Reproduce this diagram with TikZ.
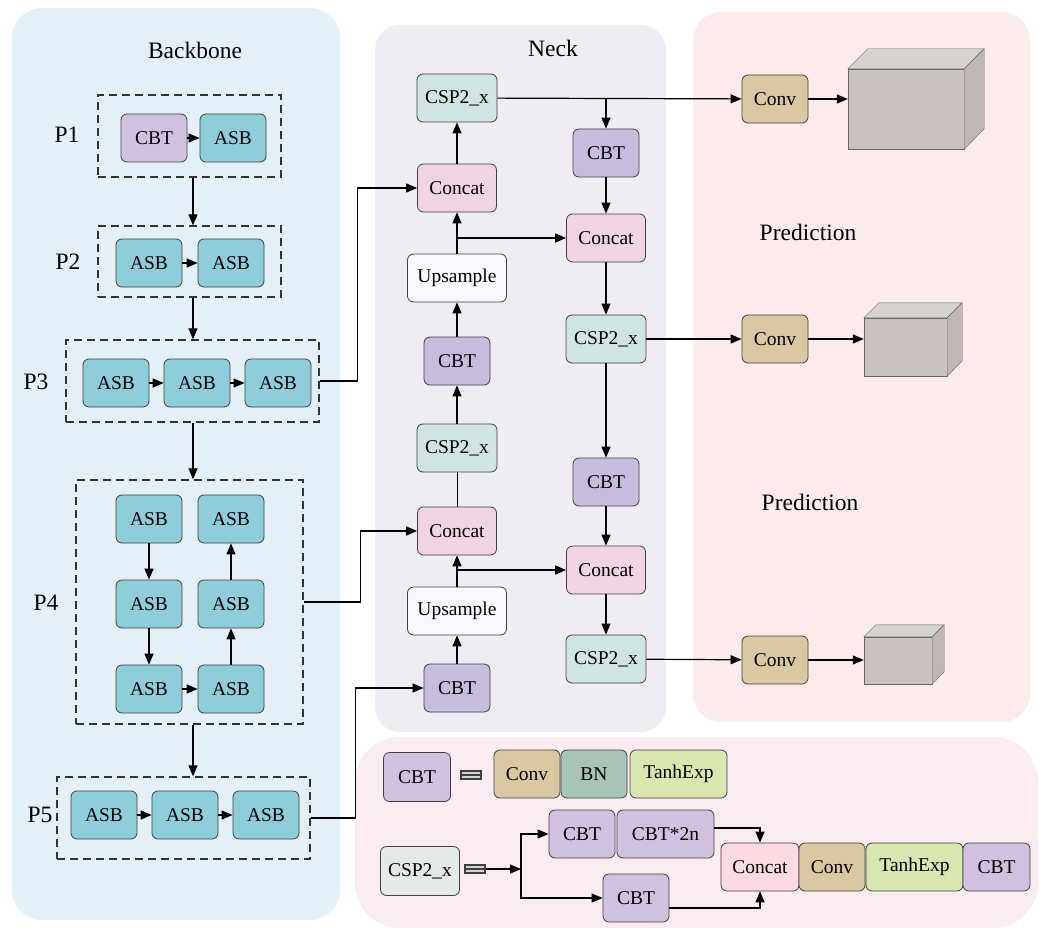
\documentclass[tikz,border=0pt]{standalone}
\usepackage{fontspec}
\setmainfont{Liberation Serif}
\usetikzlibrary{arrows.meta}

\definecolor{fondbb}{RGB}{228,240,247}
\definecolor{fondneck}{RGB}{239,236,244}
\definecolor{fondpred}{RGB}{252,235,235}
\definecolor{fondleg}{RGB}{251,236,242}
\definecolor{asbcol}{RGB}{143,205,218}
\definecolor{cbtcol}{RGB}{200,188,222}
\definecolor{cbtclair}{RGB}{208,194,222}
\definecolor{concatcol}{RGB}{241,212,225}
\definecolor{concatrose}{RGB}{252,218,226}
\definecolor{cspcol}{RGB}{208,228,228}
\definecolor{upcol}{RGB}{250,248,252}
\definecolor{convcol}{RGB}{218,200,162}
\definecolor{bncol}{RGB}{168,196,182}
\definecolor{tanhcol}{RGB}{216,230,176}
\definecolor{cubeface}{RGB}{202,194,192}
\definecolor{cubetop}{RGB}{214,210,208}
\definecolor{cubeside}{RGB}{192,183,181}

\begin{document}
\begin{tikzpicture}[x=1pt,y=-1pt]
\tikzset{bloc/.style={draw=black!75, line width=0.8pt, rounded corners=6pt, minimum width=66pt, minimum height=48pt, inner sep=2pt, font=\fontsize{19.5}{21}\selectfont},
  asb/.style={bloc, fill=asbcol},
  cbt/.style={bloc, fill=cbtcol},
  concat/.style={bloc, fill=concatcol, minimum width=79pt},
  csp/.style={bloc, fill=cspcol, minimum width=80pt},
  upsample/.style={bloc, fill=upcol, minimum width=99pt},
  conv/.style={bloc, fill=convcol},
  cadre/.style={draw=black!80, dash pattern=on 8pt off 5pt, line width=1.3pt, inner sep=0pt},
  fleche/.style={-{Triangle[length=11pt,width=9pt]}, line width=1.2pt},
  titre/.style={font=\fontsize{23.5}{26}\selectfont},
  cube/.style={draw=black!60, fill=cubeface, inner sep=0pt},
  egal/.style={draw=black!75, fill=gray!35, line width=1.2pt, minimum width=20pt, minimum height=8pt, inner sep=0pt}}
\useasboundingbox (0,0) rectangle (1043,928);
% fonds
\fill[fondbb, rounded corners=30pt] (12,8) rectangle (340,920);
\fill[fondneck, rounded corners=25pt] (375,25) rectangle (666,732);
\fill[fondpred, rounded corners=28pt] (693,12) rectangle (1030,722);
\fill[fondleg, rounded corners=45pt] (355,737) rectangle (1038,928);
\node[titre] (tbb) at (195,50) {Backbone};
\node[titre] (tneck) at (553,48) {Neck};
\node[titre] (tpredA) at (808,232) {Prediction};
\node[titre] (tpredB) at (810,502) {Prediction};

% backbone
\node[cadre, minimum width=183pt, minimum height=82pt] (p1) at (189.5,136) {};
\node[cadre, minimum width=183pt, minimum height=71pt] (p2) at (189.5,261.5) {};
\node[cadre, minimum width=253pt, minimum height=82pt] (p3) at (192.5,381) {};
\node[cadre, minimum width=227pt, minimum height=244pt] (p4) at (189.5,602) {};
\node[cadre, minimum width=253pt, minimum height=82pt] (p5) at (183.5,818) {};
\node[titre] (lp1) at (67,135) {P1};
\node[titre] (lp2) at (68,262) {P2};
\node[titre] (lp3) at (36,382) {P3};
\node[titre] (lp4) at (46,603) {P4};
\node[titre] (lp5) at (40,815) {P5};

\node[bloc, fill=cbtclair] (c11) at (154,138) {CBT};
\node[asb] (a12) at (233,138) {ASB};
\node[asb] (a21) at (149,263) {ASB};
\node[asb] (a22) at (231,263) {ASB};
\node[asb] (a31) at (116,383) {ASB};
\node[asb] (a32) at (197,383) {ASB};
\node[asb] (a33) at (278,383) {ASB};
\node[asb] (a41) at (149,519) {ASB};
\node[asb] (a42) at (149,604) {ASB};
\node[asb] (a43) at (149,689) {ASB};
\node[asb] (a44) at (231,689) {ASB};
\node[asb] (a45) at (231,604) {ASB};
\node[asb] (a46) at (231,519) {ASB};
\node[asb] (a51) at (104,815) {ASB};
\node[asb] (a52) at (185,815) {ASB};
\node[asb] (a53) at (266,815) {ASB};
\draw[fleche] (c11) -- (a12);
\draw[fleche] (a21) -- (a22);
\draw[fleche] (a31) -- (a32);
\draw[fleche] (a32) -- (a33);
\draw[fleche] (a41) -- (a42);
\draw[fleche] (a42) -- (a43);
\draw[fleche] (a43) -- (a44);
\draw[fleche] (a44) -- (a45);
\draw[fleche] (a45) -- (a46);
\draw[fleche] (a51) -- (a52);
\draw[fleche] (a52) -- (a53);
\draw[fleche] (p1.south -| 193,0) -- (p2.north -| 193,0);
\draw[fleche] (p2.south -| 193,0) -- (p3.north -| 193,0);
\draw[fleche] (p3.south -| 193,0) -- (p4.north -| 193,0);
\draw[fleche] (p4.south -| 193,0) -- (p5.north -| 193,0);

% neck
\node[csp] (cspA) at (457,98) {CSP2\_x};
\node[concat] (concatL1) at (457,188) {Concat};
\node[upsample] (upL1) at (457,278) {Upsample};
\node[cbt] (cbtL1) at (457,361) {CBT};
\node[csp] (cspL1) at (457,448) {CSP2\_x};
\node[concat] (concatL2) at (457,531) {Concat};
\node[upsample] (upL2) at (457,611) {Upsample};
\node[cbt] (cbtL2) at (457,688) {CBT};
\node[cbt] (cbtR1) at (606,153) {CBT};
\node[concat] (concatR1) at (606,238) {Concat};
\node[csp] (cspR1) at (606,339) {CSP2\_x};
\node[cbt] (cbtR2) at (606,482) {CBT};
\node[concat] (concatR2) at (606,570) {Concat};
\node[csp] (cspR2) at (606,659) {CSP2\_x};
\draw[fleche] (p3.east) -- ++(38,0) |- (concatL1.west);
\draw[fleche] (p4.east) -- ++(57,0) |- (concatL2.west);
\draw[fleche] (p5.east) -- ++(45,0) |- (cbtL2.west);
\draw[fleche] (cbtL2) -- (upL2);
\draw[fleche] (upL2) -- (concatL2);
\draw[fleche] (upL2.north |- concatR2) -- (concatR2.west);
\draw (concatL2) -- (cspL1);
\draw[fleche] (cspL1) -- (cbtL1);
\draw[fleche] (cbtL1) -- (upL1);
\draw[fleche] (upL1) -- (concatL1);
\draw[fleche] (upL1.north |- concatR1) -- (concatR1.west);
\draw[fleche] (concatL1) -- (cspA);
\draw[fleche] (cspA.east -| cbtR1) -- (cbtR1);
\draw[fleche] (cbtR1) -- (concatR1);
\draw[fleche] (concatR1) -- (cspR1);
\draw[fleche] (cspR1) -- (cbtR2);
\draw[fleche] (cbtR2) -- (concatR2);
\draw[fleche] (concatR2) -- (cspR2);

% prediction
\node[conv] (convA) at (775,99) {Conv};
\node[conv] (convB) at (775,339) {Conv};
\node[conv] (convC) at (775,660) {Conv};
\node[cube, minimum width=116pt, minimum height=80pt] (cubeA) at (906,109) {};
\filldraw[draw=black!60, fill=cubetop] (cubeA.north west) -- ++(20,-20) -- ++(116,0) -- (cubeA.north east) -- cycle;
\filldraw[draw=black!60, fill=cubeside] (cubeA.north east) -- ++(20,-20) -- ++(0,80) -- (cubeA.south east) -- cycle;
\node[cube, minimum width=83pt, minimum height=58pt] (cubeB) at (905.5,347) {};
\filldraw[draw=black!60, fill=cubetop] (cubeB.north west) -- ++(15,-15) -- ++(83,0) -- (cubeB.north east) -- cycle;
\filldraw[draw=black!60, fill=cubeside] (cubeB.north east) -- ++(15,-15) -- ++(0,58) -- (cubeB.south east) -- cycle;
\node[cube, minimum width=68pt, minimum height=47pt] (cubeC) at (898,660.5) {};
\filldraw[draw=black!60, fill=cubetop] (cubeC.north west) -- ++(12,-12) -- ++(68,0) -- (cubeC.north east) -- cycle;
\filldraw[draw=black!60, fill=cubeside] (cubeC.north east) -- ++(12,-12) -- ++(0,47) -- (cubeC.south east) -- cycle;
\draw[fleche] (cspA) -- (convA);
\draw[fleche] (cspR1) -- (convB);
\draw[fleche] (cspR2) -- (convC);
\draw[fleche] (convA) -- (convA -| cubeA.west);
\draw[fleche] (convB) -- (convB -| cubeB.west);
\draw[fleche] (convC) -- (convC -| cubeC.west);

% legende
\node[bloc, fill=cbtclair, minimum width=67pt, minimum height=49pt] (legcbt) at (417,777) {CBT};
\node[egal] (eqA) at (471,775) {};
\draw[black!75, line width=1.2pt] (eqA.west) -- (eqA.east);
\node[conv] (legconv) at (527,774) {Conv};
\node[bloc, fill=bncol] (legbn) at (594,774) {BN};
\node[bloc, fill=tanhcol, minimum width=97pt] (legtanh) at (678.5,774) {TanhExp};
\node[bloc, fill=cspcol!70!gray!40!white, minimum width=79pt, minimum height=49pt] (legcsp) at (420,871) {CSP2\_x};
\node[egal] (eqB) at (475,869) {};
\draw[black!75, line width=1.2pt] (eqB.west) -- (eqB.east);
\coordinate (fourche) at (521,869);
\node[bloc, fill=cbtclair] (cbtU) at (582,834) {CBT};
\node[bloc, fill=cbtclair, minimum width=97pt] (cbtn) at (665.5,834) {CBT*2n};
\node[bloc, fill=cbtclair] (cbtD) at (636,898) {CBT};
\node[bloc, fill=concatrose, minimum width=78pt] (concatB) at (760,867) {Concat};
\node[conv] (convD) at (832,867) {Conv};
\node[bloc, fill=tanhcol, minimum width=97pt] (tanhB) at (914.5,867) {TanhExp};
\node[bloc, fill=cbtclair, minimum width=67pt] (cbtF) at (996.5,867) {CBT};
\draw[fleche] (eqB.east) -- (fourche);
\draw[fleche] (fourche) |- (cbtU.west);
\draw[fleche] (fourche) |- (cbtD.west);
\draw[fleche] ([yshift=6pt]cbtn.east) -| (concatB.north);
\draw[fleche] ([yshift=-10pt]cbtD.east) -| (concatB.south);
\end{tikzpicture}
\end{document}
